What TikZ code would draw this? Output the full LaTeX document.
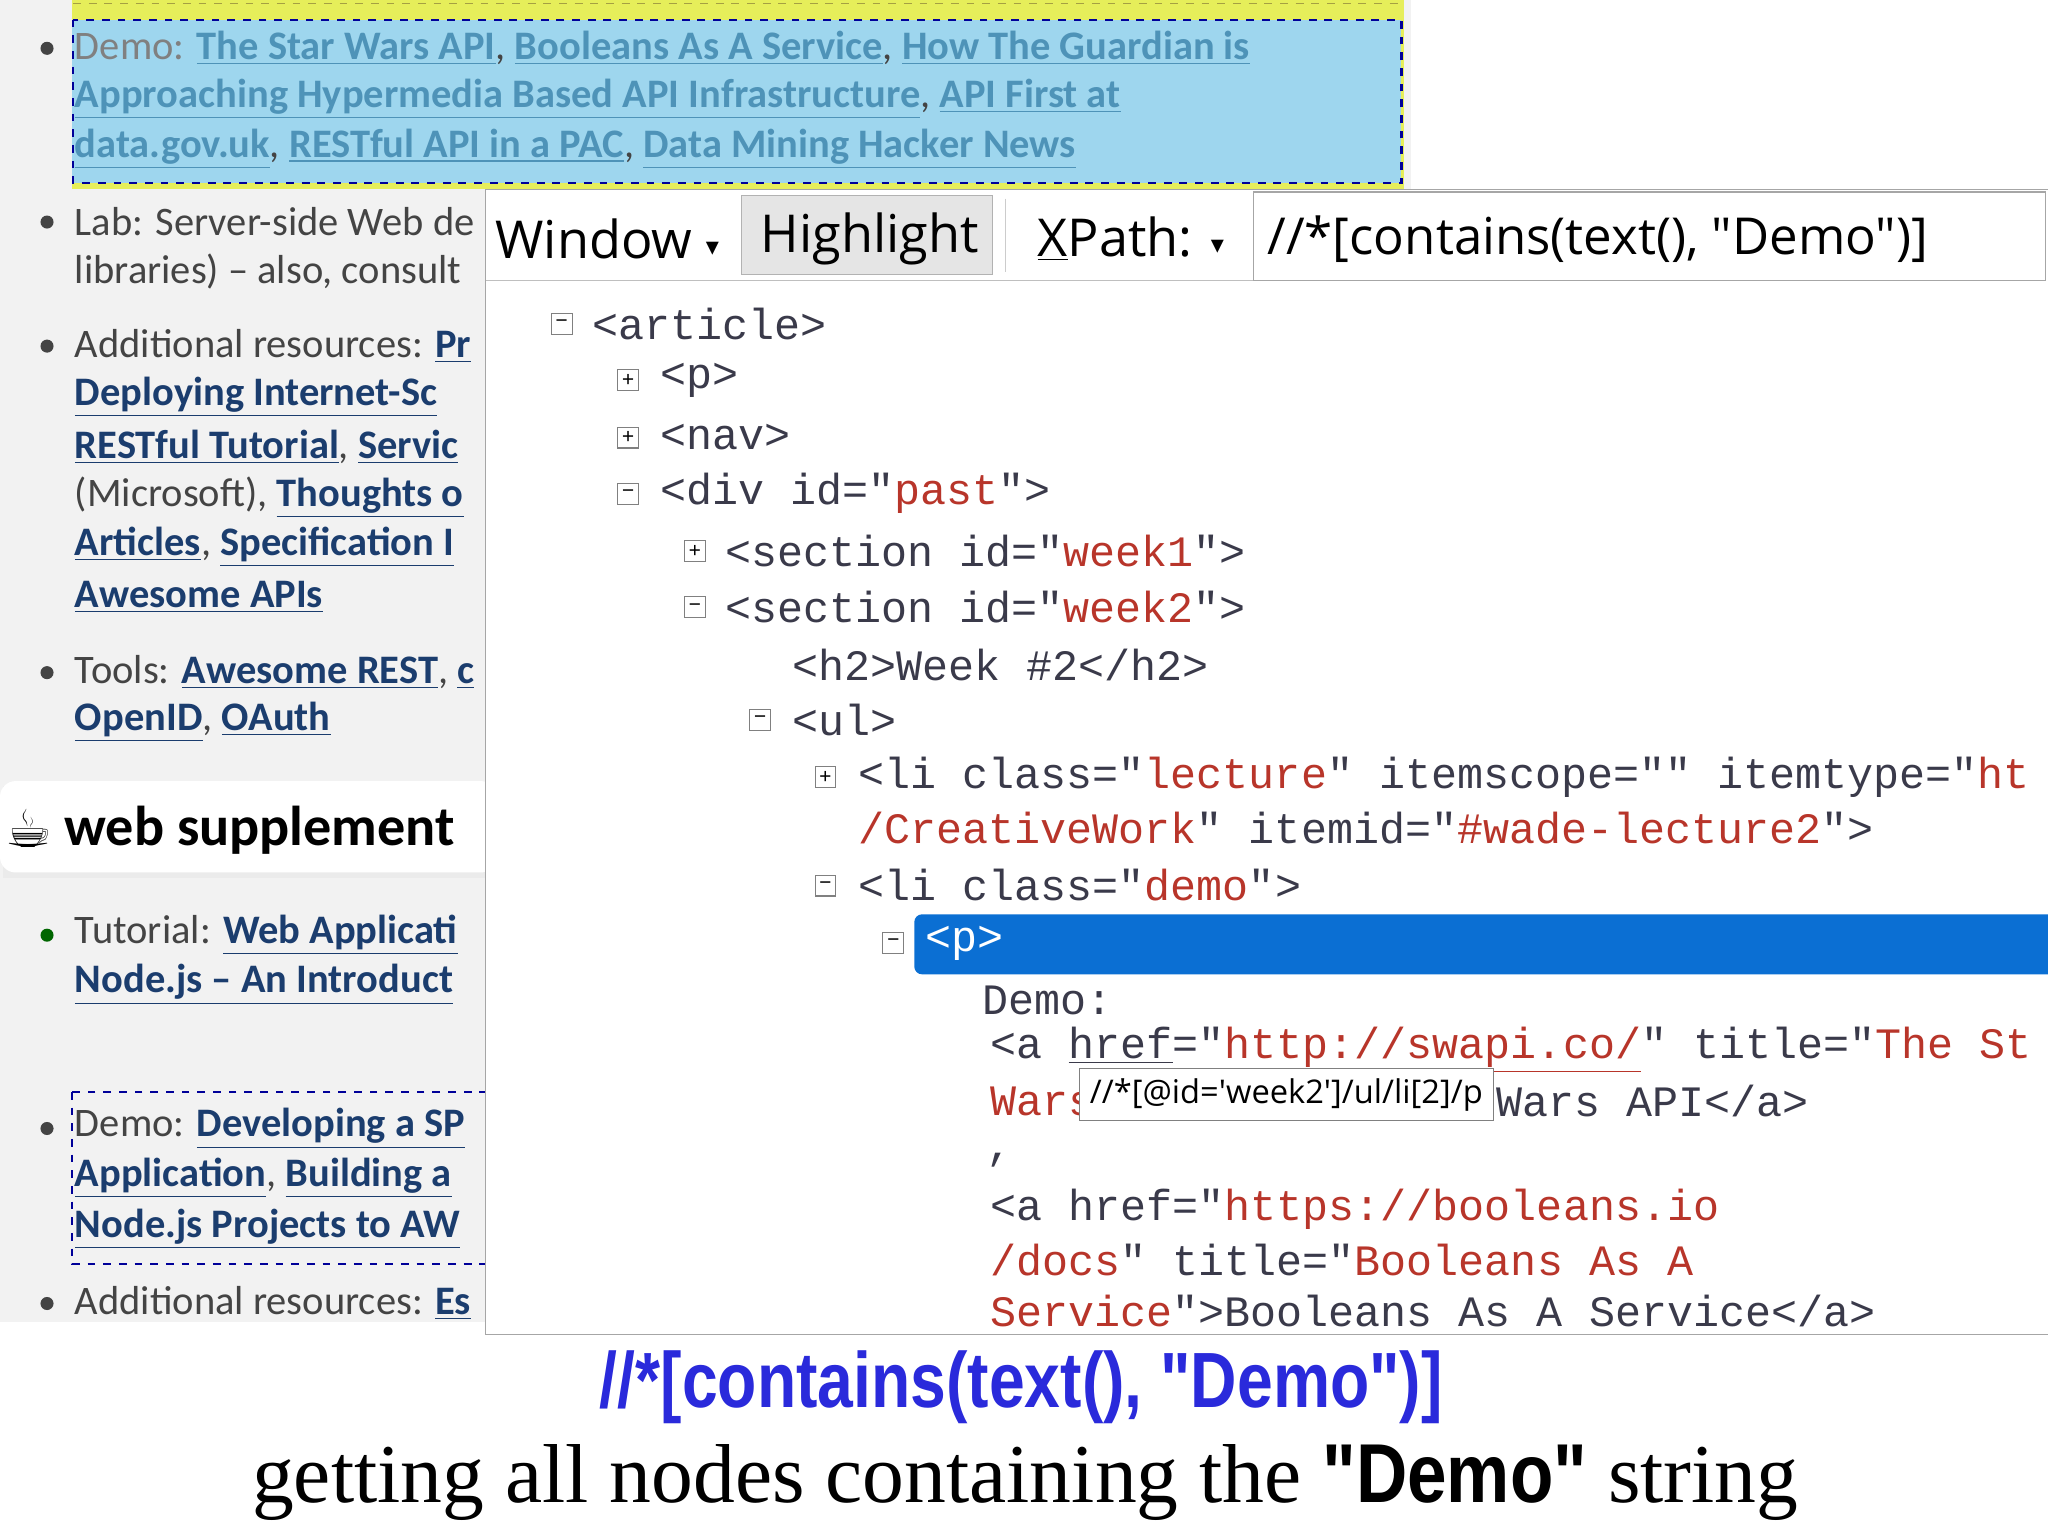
\documentclass[tikz,border=0pt]{standalone}
\usepackage{fontspec}
\setmainfont{Liberation Serif}
\newfontfamily\lf{Carlito}
\newfontfamily\uf{Open Sans}
\newfontfamily\cf{Liberation Mono}
\newfontfamily\hf{Liberation Sans}
\newfontfamily\djv{DejaVu Sans}
\definecolor{lbg}{HTML}{F2F2F2}
\definecolor{yel}{HTML}{E6EE5A}
\definecolor{hbl}{HTML}{9ED6EE}
\definecolor{lk}{HTML}{1B3D6E}
\definecolor{lkf}{HTML}{4E93B8}
\definecolor{tx}{HTML}{444444}
\definecolor{tag}{HTML}{3A3A4A}
\definecolor{val}{HTML}{B8352A}
\definecolor{sel}{HTML}{0B6FD3}
\definecolor{capb}{HTML}{2A2ADB}
\newcommand{\lkb}[1]{\textcolor{lk}{\textbf{\underline{#1}}}}
\newcommand{\lkc}[1]{\textcolor{lkf}{\textbf{\underline{#1}}}}
\newcommand{\av}[1]{\textcolor{val}{#1}}
\newcommand{\dd}{\raisebox{1pt}{\djv\fontsize{10}{10}\selectfont ▾}}
\tikzset{
 lt/.style={anchor=west,inner sep=0,font=\lf\fontsize{15.5}{17}\selectfont,text=tx},
 ct/.style={anchor=west,inner sep=0,font=\cf\fontsize{16.6}{18}\selectfont,text=tag},
 bul/.style={circle,fill=tx,inner sep=0,minimum size=5pt},
 tb/.style={draw=gray,fill=white,inner sep=0,minimum size=8pt,font=\cf\fontsize{8}{8}\selectfont,text=black}
}
\begin{document}
\begin{tikzpicture}[x=0.5pt,y=-0.5pt]
\useasboundingbox (0,0) rectangle (1568,1176);
\fill[white] (0,0) rectangle (1568,1176);
\fill[lbg] (0,0) rectangle (1080,1012);
% highlight
\fill[yel] (55,0) rectangle (1075,145);
\fill[hbl] (55,15) rectangle (1073,140);
\draw[dashed,draw=blue!60!black,thick] (56,15) rectangle (1073,140);
\draw[dashed,draw=yellow!60!black] (56,3)--(1073,3);
\node[bul] (b0) at (36,37) {};
\node[lt] (l1) at (57,37) {\textcolor{gray}{Demo:} \lkc{The Star Wars API}, \lkc{Booleans As A Service}, \lkc{How The Guardian is}};
\node[lt] (l2) at (57,76) {\lkc{Approaching Hypermedia Based API Infrastructure}, \lkc{API First at}};
\node[lt] (l3) at (57,114) {\lkc{data.gov.uk}, \lkc{RESTful API in a PAC}, \lkc{Data Mining Hacker News}};
\node[bul] (b1) at (36,170) {};
\node[lt] (l4) at (57,170) {Lab: Server-side Web de};
\node[lt] (l5) at (57,208) {libraries) – also, consult};
\node[bul] (b2) at (36,265) {};
\node[lt] (l6) at (57,265) {Additional resources: \lkb{Pr}};
\node[lt] (l7) at (57,304) {\lkb{Deploying Internet-Sc}};
\node[lt] (l8) at (57,342) {\lkb{RESTful Tutorial}, \lkb{Servic}};
\node[lt] (l9) at (57,381) {(Microsoft), \lkb{Thoughts o}};
\node[lt] (l10) at (57,419) {\lkb{Articles}, \lkb{Specification I}};
\node[lt] (l11) at (57,457) {\lkb{Awesome APIs}};
\node[bul] (b3) at (36,515) {};
\node[lt] (l12) at (57,515) {Tools: \lkb{Awesome REST}, \lkb{c}};
\node[lt] (l13) at (57,553) {\lkb{OpenID}, \lkb{OAuth}};
% web supplement tab
\fill[black!8] (2,602) rectangle (376,672);
\fill[white,rounded corners=6pt] (0,598) rectangle (380,668);
\node[anchor=west,inner sep=0,font=\djv\fontsize{20}{20}\selectfont] (cup) at (4,634) {☕};
\node[anchor=west,inner sep=0,font=\lf\bfseries\fontsize{21.5}{23}\selectfont] (ws) at (49,636) {web supplement};
\node[bul,fill=green!40!black] (b4) at (36,716) {};
\node[lt] (l14) at (57,716) {Tutorial: \lkb{Web Applicati}};
\node[lt] (l15) at (57,754) {\lkb{Node.js – An Introduct}};
\draw[dashed,draw=blue!60!black,thick] (55,836) rectangle (400,968);
\node[bul] (b5) at (36,864) {};
\node[lt] (l16) at (57,864) {Demo: \lkb{Developing a SP}};
\node[lt] (l17) at (57,902) {\lkb{Application}, \lkb{Building a}};
\node[lt] (l18) at (57,941) {\lkb{Node.js Projects to AW}};
\node[bul] (b6) at (36,998) {};
\node[lt] (l19) at (57,998) {Additional resources: \lkb{Es}};
% panel
\fill[white] (372,145) rectangle (1568,1022);
\draw[gray!70] (372,1022)--(372,145)--(1568,145);
\draw[gray!70] (372,1022)--(1568,1022);
\draw[gray!50] (372,215)--(960,215);
\fill[black!10] (568,150) rectangle (760,210);
\draw[gray!60] (568,150) rectangle (760,210);
\draw[gray!40] (770,152)--(770,208);
\node[anchor=west,inner sep=0,font=\uf\fontsize{20}{22}\selectfont] (win) at (379,183) {Window \dd};
\node[anchor=west,inner sep=0,font=\uf\fontsize{20}{22}\selectfont] (hl) at (582,183) {Highlight};
\node[anchor=west,inner sep=0,font=\uf\fontsize{20}{22}\selectfont] (xp) at (794,183) {\underline{X}Path: \dd};
\draw[gray!70,fill=white] (960,147) rectangle (1566,215);
\node[anchor=west,inner sep=0,font=\uf\fontsize{19.5}{22}\selectfont] (in) at (970,183) {//*[contains(text(), "Demo")]};
\begin{scope}
\clip (373,216) rectangle (1568,1021);
\node[tb] (t1) at (430,248) {−};
\node[ct] (c1) at (453,248) {<article>};
\node[tb] (t2) at (481,291) {+};
\node[ct] (c2) at (505,291) {<p>};
\node[tb] (t3) at (481,335) {+};
\node[ct] (c3) at (505,335) {<nav>};
\node[tb] (t4) at (481,378) {−};
\node[ct] (c4) at (505,378) {<div id="\av{past}">};
\node[tb] (t5) at (532,422) {+};
\node[ct] (c5) at (555,422) {<section id="\av{week1}">};
\node[tb] (t6) at (532,465) {−};
\node[ct] (c6) at (555,465) {<section id="\av{week2}">};
\node[ct] (c7) at (606,509) {<h2>Week \#2</h2>};
\node[tb] (t8) at (582,551) {−};
\node[ct] (c8) at (606,551) {<ul>};
\node[tb] (t9) at (632,595) {+};
\node[ct] (c9) at (657,595) {<li class="\av{lecture}" itemscope="" itemtype="\av{ht}};
\node[ct] (c10) at (657,634) {\av{/CreativeWork}" itemid="\av{\#wade-lecture2}">};
\node[tb] (t11) at (632,678) {−};
\node[ct] (c11) at (657,678) {<li class="\av{demo}">};
\fill[sel,rounded corners=3pt] (700,700) rectangle (1580,746);
\node[tb] (t12) at (684,722) {−};
\node[ct,text=white] (c12) at (708,722) {<p>};
\node[ct] (c13) at (752,766) {Demo:};
\node[ct] (c14) at (758,804) {<a \underline{href}="\av{\underline{http://swapi.co/}}" title="\av{The St}};
\node[ct] (c15) at (758,843) {\av{Wars}};
\node[ct] (c16) at (1145,843) {Wars API</a>};
\node[ct] (c17) at (755,888) {,};
\node[ct] (c18) at (758,926) {<a href="\av{https://booleans.io}};
\node[ct] (c19) at (758,965) {\av{/docs}" title="\av{Booleans As A}};
\node[ct] (c20) at (758,1004) {\av{Service}">Booleans As A Service</a>};
\node[draw=gray,fill=white,anchor=west,minimum height=20pt,inner xsep=4pt,font=\uf\fontsize{12.5}{14}\selectfont] (tip) at (826,838) {//*[@id='week2']/ul/li[2]/p};
\end{scope}
% caption
\node[inner sep=0,font=\hf\bfseries\fontsize{30}{32}\selectfont,text=capb,xscale=0.82] (h) at (782,1062) {//*[contains(text(), "Demo")]};
\node[inner sep=0,font=\fontsize{32}{34}\selectfont] (cap) at (785,1135) {getting all nodes containing the {\hf\bfseries\scalebox{0.85}[1]{"Demo"}} string};
\end{tikzpicture}
\end{document}
